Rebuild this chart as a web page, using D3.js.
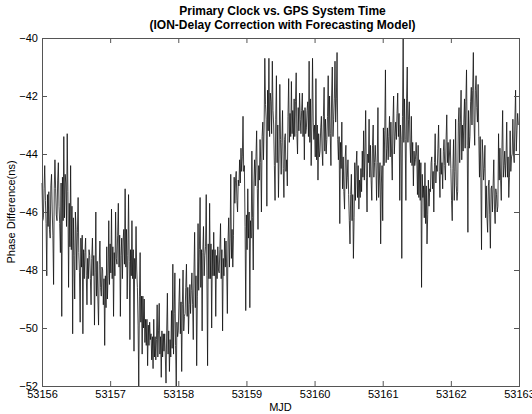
<!DOCTYPE html>
<html>
<head>
<meta charset="utf-8">
<script src="https://cdn.jsdelivr.net/npm/d3@7"></script>
<style>
  body { margin: 0; background: #fff; }
  svg { display: block; font-family: "Liberation Sans", Arial, sans-serif; }
</style>
</head>
<body>
<svg width="532" height="414"></svg>
<script>
// phase difference (ns), 100 samples per day
var day53156 = [
  -45.0, -46.3, -46.2, -45.2, -44.4, -45.6, -46.4, -48.2, -45.4, -46.5,
  -45.3, -46.6, -46.9, -45.1, -44.7, -46.0, -46.8, -48.5, -45.2, -44.2,
  -45.2, -46.1, -46.3, -44.9, -44.3, -45.8, -46.4, -47.4, -45.0, -49.6,
  -44.8, -46.3, -43.4, -46.2, -44.7, -45.0, -46.5, -43.3, -45.3, -48.6,
  -45.7, -47.2, -44.4, -47.3, -45.8, -50.2, -46.2, -47.5, -49.0, -46.0,
  -46.6, -48.0, -46.7, -45.5, -47.4, -48.1, -49.8, -46.9, -47.9, -46.8,
  -50.2, -47.3, -48.3, -47.4, -46.9, -48.2, -49.2, -47.6, -48.3, -47.3,
  -47.5, -48.3, -49.2, -47.6, -46.9, -48.2, -47.5, -49.9, -48.1, -46.0,
  -48.9, -47.7, -49.0, -49.9, -47.8, -47.0, -48.6, -48.9, -47.9, -48.0,
  -49.2, -48.3, -50.6, -48.2, -49.3, -47.2, -49.0, -48.2, -46.3, -48.5
];
var day53157 = [
  -47.1, -48.1, -45.9, -48.3, -47.2, -49.6, -47.4, -48.2, -46.0, -47.6,
  -47.8, -46.8, -45.7, -47.9, -46.8, -49.6, -47.5, -46.9, -48.3, -47.0,
  -46.6, -47.8, -45.2, -47.9, -46.6, -49.0, -47.5, -45.4, -47.7, -50.4,
  -47.3, -48.2, -46.3, -48.3, -47.3, -50.8, -47.6, -48.3, -46.5, -48.0,
  -48.6, -49.9, -52.0, -48.9, -47.4, -49.8, -48.9, -50.9, -48.9, -50.0,
  -49.0, -50.5, -49.7, -50.6, -49.7, -51.3, -49.9, -50.6, -49.8, -50.4,
  -50.2, -51.1, -50.3, -51.4, -49.7, -51.0, -50.3, -51.1, -50.4, -49.2,
  -51.0, -50.1, -49.15, -50.9, -50.3, -51.7, -50.1, -51.0, -50.2, -50.8,
  -50.2, -51.0, -51.9, -50.1, -48.8, -50.9, -50.1, -51.5, -50.4, -51.0,
  -49.4, -50.7, -47.8, -50.9, -49.5, -48.1, -50.6, -52.0, -49.8, -50.3
];
var day53158 = [
  -50.1, -49.1, -48.3, -50.2, -49.1, -51.5, -49.2, -48.0, -50.1, -49.6,
  -49.5, -48.6, -47.8, -49.6, -48.6, -50.2, -49.2, -48.5, -49.5, -48.7,
  -48.1, -49.2, -50.4, -48.1, -46.7, -49.3, -48.2, -51.3, -48.9, -46.4,
  -48.7, -47.3, -45.5, -48.6, -47.3, -50.1, -47.4, -46.5, -48.2, -47.5,
  -47.2, -45.4, -48.2, -51.3, -47.1, -48.3, -45.7, -48.3, -47.1, -50.0,
  -47.3, -48.2, -46.7, -48.2, -47.3, -49.6, -47.5, -48.3, -47.2, -48.0,
  -48.1, -47.3, -46.4, -48.3, -47.3, -50.1, -47.6, -48.2, -46.9, -47.9,
  -47.0, -47.9, -49.5, -47.0, -46.2, -47.9, -46.9, -44.7, -47.6, -46.6,
  -47.9, -46.8, -44.8, -45.7, -44.9, -44.6, -45.6, -46.0, -44.9, -45.1,
  -44.2, -45.0, -43.8, -44.6, -44.1, -42.7, -44.6, -44.4, -46.5, -49.4
];
var day53159 = [
  -46.1, -47.3, -45.2, -46.9, -46.0, -49.3, -46.3, -46.9, -43.9, -46.2,
  -48.0, -45.0, -44.2, -45.1, -44.1, -43.2, -45.2, -46.6, -44.4, -44.9,
  -43.5, -44.3, -46.0, -43.4, -42.9, -44.2, -43.0, -40.7, -42.3, -42.8,
  -45.8, -41.8, -43.2, -40.7, -43.4, -41.9, -42.2, -43.3, -40.8, -42.5,
  -43.0, -44.4, -45.6, -42.8, -41.3, -44.3, -43.0, -45.5, -44.0, -41.6,
  -43.5, -44.7, -43.6, -42.5, -44.5, -45.5, -43.5, -43.3, -44.6, -44.2,
  -45.1, -42.7, -41.4, -43.6, -42.6, -43.4, -41.5, -43.3, -42.5, -43.5,
  -42.1, -43.4, -42.2, -41.2, -43.3, -44.0, -42.4, -43.2, -41.9, -42.8,
  -43.3, -42.5, -41.9, -43.4, -42.5, -44.2, -42.4, -43.3, -43.1, -42.5,
  -42.2, -43.4, -40.8, -43.6, -42.1, -44.4, -43.0, -40.7, -42.9, -43.5
];
var day53160 = [
  -43.0, -44.1, -41.4, -44.2, -43.0, -44.9, -43.3, -44.1, -43.9, -43.1,
  -42.7, -43.9, -44.4, -42.7, -41.7, -43.9, -42.8, -44.0, -43.5, -42.7,
  -41.3, -43.4, -42.0, -43.3, -44.4, -42.0, -41.0, -43.4, -42.8, -42.1,
  -40.8, -42.9, -42.1, -40.5, -43.5, -44.2, -43.4, -46.4, -43.6, -44.5,
  -42.9, -45.2, -44.1, -45.3, -45.9, -44.1, -43.7, -45.2, -44.8, -44.2,
  -45.4, -46.3, -47.1, -45.4, -44.7, -46.3, -45.4, -47.6, -46.2, -44.3,
  -45.6, -44.4, -43.9, -45.5, -44.4, -45.9, -44.9, -45.5, -44.5, -45.3,
  -43.9, -44.8, -43.2, -44.9, -43.9, -42.5, -44.8, -46.0, -44.0, -44.3,
  -42.8, -44.8, -43.7, -44.9, -45.6, -43.7, -43.0, -44.8, -44.3, -43.7,
  -44.3, -45.6, -44.3, -42.4, -45.5, -44.9, -44.3, -47.1, -45.0, -44.4
];
var day53161 = [
  -46.3, -43.1, -44.4, -43.2, -41.1, -44.3, -43.8, -43.1, -44.2, -43.4,
  -42.7, -44.1, -42.9, -44.0, -44.9, -42.9, -42.0, -44.0, -43.4, -42.9,
  -43.5, -42.6, -41.9, -43.4, -42.6, -45.6, -43.0, -43.5, -47.6, -42.7,
  -40.0, -43.6, -42.1, -43.5, -45.6, -42.1, -41.0, -43.6, -42.8, -42.2,
  -43.6, -44.3, -42.7, -44.4, -43.6, -45.1, -43.9, -44.4, -44.2, -43.6,
  -44.1, -45.4, -43.7, -45.5, -44.2, -45.6, -44.3, -48.6, -44.7, -45.5,
  -45.1, -46.2, -44.3, -46.4, -45.1, -47.1, -46.1, -44.9, -45.8, -45.2,
  -45.3, -44.3, -44.1, -45.2, -44.6, -46.0, -44.3, -43.3, -45.0, -44.4,
  -44.6, -43.8, -43.0, -44.6, -45.5, -43.8, -44.7, -44.3, -45.2, -43.9,
  -43.5, -44.4, -44.9, -43.5, -42.65, -44.3, -43.6, -44.4, -44.0, -43.5
];
var day53162 = [
  -44.5, -45.6, -46.3, -44.5, -43.5, -45.6, -44.6, -42.8, -45.1, -45.6,
  -45.3, -42.9, -42.4, -44.3, -42.9, -41.8, -44.2, -43.0, -43.9, -42.9,
  -42.1, -43.8, -42.2, -41.1, -43.7, -46.7, -42.5, -43.8, -43.4, -42.2,
  -41.7, -43.0, -41.8, -40.5, -42.9, -43.7, -41.8, -41.3, -42.4, -42.9,
  -41.6, -43.4, -44.8, -43.4, -44.8, -47.3, -43.5, -44.0, -44.9, -44.5,
  -43.7, -46.2, -45.1, -46.2, -46.7, -45.1, -44.9, -46.1, -47.25, -45.2,
  -45.1, -46.0, -45.1, -44.2, -45.9, -46.4, -45.2, -45.4, -46.0, -45.8,
  -43.3, -44.9, -43.8, -44.9, -45.6, -43.8, -42.5, -44.8, -44.4, -43.9,
  -44.8, -44.1, -42.9, -44.8, -44.1, -45.5, -44.8, -43.2, -44.6, -44.1,
  -44.0, -42.8, -44.0, -44.3, -42.8, -41.8, -43.9, -43.2, -42.6, -43.0
];

var days = [53156, 53157, 53158, 53159, 53160, 53161, 53162];
var dayValues = [day53156, day53157, day53158, day53159, day53160, day53161, day53162];
var xTicks = [53156, 53157, 53158, 53159, 53160, 53161, 53162, 53163];
var yTicks = [-40, -42, -44, -46, -48, -50, -52];

var data = [];
days.forEach(function(day, k) {
    var vals = dayValues[k];
    vals.forEach(function(v, i) {
        data.push({t: day + i / vals.length, v: v});
    });
});

var svg = d3.select("svg"),
    margin = {left: 42, right: 13, top: 38, bottom: 28},
    width = +svg.attr("width") - margin.left - margin.right,
    height = +svg.attr("height") - margin.top - margin.bottom,
    g = svg.append("g").attr("transform", "translate(" + margin.left + "," + margin.top + ")");

var x = d3.scaleLinear().domain([53156, 53163]).range([0, width]);
var y = d3.scaleLinear().domain([-52, -40]).range([height, 0]);

// the series
var line = d3.line().x(d => x(d.t)).y(d => y(d.v));
g.append("path")
    .datum(data)
    .attr("fill", "none")
    .attr("stroke", "#111")
    .attr("stroke-width", 0.8)
    .attr("d", line);

// Matlab style box, ticks pointing inwards on every side
function styleAxis(sel) {
    sel.select(".domain").remove();
    sel.selectAll(".tick line").attr("stroke", "#555");
    sel.selectAll(".tick text").attr("fill", "#000").attr("font-size", "11px")
        .attr("font-family", "'Liberation Sans', Arial, sans-serif");
}

g.append("g")
    .attr("transform", "translate(0," + height + ")")
    .call(d3.axisBottom(x).tickValues(xTicks).tickFormat(d3.format("d")).tickSizeInner(-5).tickPadding(4))
    .call(styleAxis);
g.append("g")
    .call(d3.axisTop(x).tickValues(xTicks).tickFormat("").tickSizeInner(-5))
    .call(styleAxis);
g.append("g")
    .call(d3.axisLeft(y).tickValues(yTicks).tickFormat(d3.format("d")).tickSizeInner(-5).tickPadding(4))
    .call(styleAxis);
g.append("g")
    .attr("transform", "translate(" + width + ",0)")
    .call(d3.axisRight(y).tickValues(yTicks).tickFormat("").tickSizeInner(-5))
    .call(styleAxis);

g.append("rect")
    .attr("width", width)
    .attr("height", height)
    .attr("fill", "none")
    .attr("stroke", "#555")
    .attr("stroke-width", 1)
    .attr("shape-rendering", "crispEdges");

// titles
svg.append("text")
    .attr("x", margin.left + width / 2 + 2).attr("y", 15)
    .attr("text-anchor", "middle").attr("font-size", "12px").attr("font-weight", "bold")
    .text("Primary Clock vs. GPS System Time");
svg.append("text")
    .attr("x", margin.left + width / 2 + 2).attr("y", 29)
    .attr("text-anchor", "middle").attr("font-size", "12px").attr("font-weight", "bold")
    .text("(ION-Delay Correction with Forecasting Model)");

svg.append("text")
    .attr("x", margin.left + width / 2).attr("y", 411)
    .attr("text-anchor", "middle").attr("font-size", "11px")
    .text("MJD");
svg.append("text")
    .attr("transform", "translate(15," + (margin.top + height / 2) + ") rotate(-90)")
    .attr("text-anchor", "middle").attr("font-size", "11px")
    .text("Phase Difference(ns)");
</script>
</body>
</html>
